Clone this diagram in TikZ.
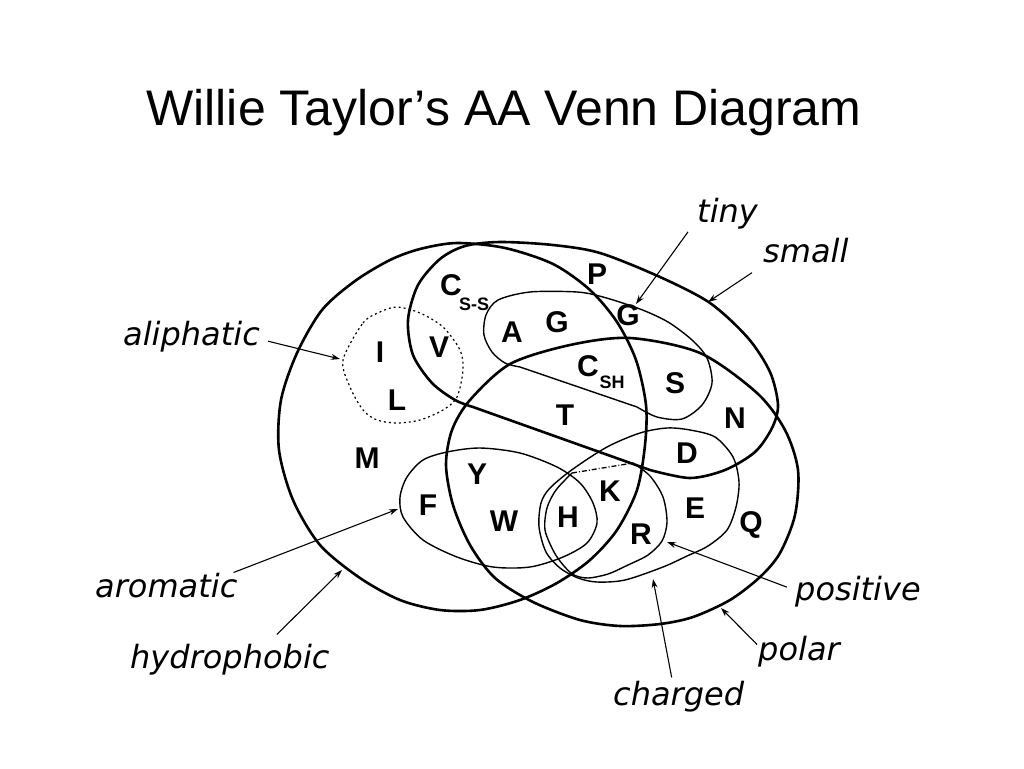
\documentclass[tikz,border=0pt]{standalone}
\usepackage{fontspec}
\setmainfont{Liberation Sans}
\newfontfamily\labelfont{DejaVu Sans}
\usetikzlibrary{arrows.meta}

\begin{document}
\begin{tikzpicture}[x=1pt, y=-1pt, line join=round]
  % All coordinates are taken straight off the 1024x768 slide,
  % so one unit is one pixel and y grows downwards.
  \tikzset{
    set_thick/.style={line width=2.6pt},
    set_thin/.style={line width=1.4pt},
    set_dotted/.style={line width=1.2pt, dash pattern=on 2pt off 3pt},
    set_dashdot/.style={line width=1.3pt, dash pattern=on 5pt off 2pt on 1pt off 2pt},
    aa_letter/.style={font=\fontsize{30}{30}\selectfont\bfseries, inner sep=0pt},
    aa_sub/.style={font=\fontsize{18}{18}\selectfont\bfseries, inner sep=0pt},
    set_label/.style={font=\labelfont\itshape\fontsize{32}{32}\selectfont,
      inner sep=0pt, anchor=base west},
    pointer/.style={line width=1.1pt, -{Stealth[length=9pt,width=6pt]}},
  }
  \useasboundingbox (0,0) rectangle (1024,768);

  \node[font=\fontsize{50}{50}\selectfont, anchor=base, inner sep=0pt] (title)
    at (504,125) {Willie Taylor’s AA Venn Diagram};

  % hydrophobic
  \draw[set_thick] plot[smooth cycle] coordinates {
    (457,243) (505,248) (553,264) (590,290) (617,322) (636,360) (646,405)
    (645,445) (637,490) (617,530) (590,560) (557,583) (520,600) (480,610)
    (440,610) (400,600) (360,578) (320,545) (293,500) (279,450) (281,400)
    (297,353) (322,310) (355,281) (390,260) (420,249)};
  % small
  \draw[set_thick] plot[smooth] coordinates {
    (473,407) (455,400) (432,383) (413,355) (408,320) (418,285) (440,259)
    (465,246) (500,242) (553,245) (600,253) (660,277) (710,303) (748,338)
    (770,372) (778,405) (772,428) (755,452) (725,470) (690,478) (650,470)}
    -- cycle;
  % polar
  \draw[set_thick] plot[smooth cycle] coordinates {
    (470,400) (510,364) (570,345) (630,338) (700,353) (757,393) (785,430)
    (798,470) (795,515) (780,553) (760,577) (730,600) (693,617) (660,624)
    (620,626) (580,620) (533,602) (495,578) (470,545) (453,505) (446,465)
    (452,430)};
  % tiny
  \draw[set_thin] plot[smooth] coordinates {
    (637,407) (657,417) (682,419) (702,405) (712,383) (707,358) (692,340)
    (668,322) (640,309) (603,297) (577,292) (530,292) (498,300) (486,315)
    (484,335) (492,352) (505,363) (520,367)} -- cycle;
  % aliphatic
  \draw[set_dotted] plot[smooth cycle] coordinates {
    (343,360) (363,323) (380,312) (397,307) (420,313) (443,327) (460,350)
    (463,370) (457,397) (443,410) (420,420) (397,423) (377,420) (363,410)
    (350,387)};
  % aromatic
  \draw[set_thin] plot[smooth cycle] coordinates {
    (400,497) (407,477) (423,460) (447,452) (480,448) (520,453) (557,467)
    (580,483) (593,503) (597,523) (587,543) (563,557) (530,567) (493,567)
    (457,557) (423,540) (403,517)};
  % charged
  \draw[set_thin] plot[smooth cycle] coordinates {
    (640,433) (667,428) (690,430) (715,437) (733,457) (739,482) (736,507)
    (727,530) (708,546) (687,556) (663,567) (625,580) (597,582) (578,578)
    (560,568) (546,552) (539,527) (541,503) (550,488) (573,469) (607,447)};
  % positive
  \draw[set_thin] plot[smooth] coordinates {
    (633,463) (650,476) (663,497) (667,522) (662,541) (648,555) (628,565)
    (608,574) (588,578) (574,575) (564,566) (554,552) (545,530) (547,508)
    (556,490) (572,473)};
  \draw[set_dashdot] (572,473) -- (633,463);

  % the amino acids
  \foreach \nm/\txt/\x/\y in {
    I/I/380/352, V/V/439/347, L/L/397/400, M/M/367/458, Css/C/451/285,
    P/P/597/274, A/A/512/332, G/G/557/322, Gtiny/G/628/315, Csh/C/588/366,
    S/S/675/383, T/T/565/415, N/N/735/418, D/D/687/453, Y/Y/477/474,
    K/K/610/491, F/F/428/505, E/E/695/508, W/W/504/521, H/H/568/517,
    R/R/641/534, Q/Q/751/525}
    \node[aa_letter] (aa\nm) at (\x,\y) {\txt};
  \node[aa_sub] (aaCssSub) at (474,304) {S-S};
  \node[aa_sub] (aaCshSub) at (612,382) {SH};

  % set names and their pointers
  \node[set_label] (aliphatic) at (123,345) {aliphatic};
  \node[set_label] (aromatic) at (95,597) {aromatic};
  \node[set_label] (hydrophobic) at (130,668) {hydrophobic};
  \node[set_label] (tiny) at (697,222) {tiny};
  \node[set_label] (small) at (763,262) {small};
  \node[set_label] (positive) at (795,600) {positive};
  \node[set_label] (polar) at (758,660) {polar};
  \node[set_label] (charged) at (613,705) {charged};

  \coordinate (aliphatic tip) at (340,359);
  \coordinate (aromatic tip) at (398,509);
  \coordinate (hydrophobic tip) at (342,570);
  \coordinate (tiny tip) at (636,304);
  \coordinate (small tip) at (708,302);
  \coordinate (positive tip) at (667,542);
  \coordinate (polar tip) at (721,608);
  \coordinate (charged tip) at (653,579);

  \draw[pointer] ([xshift=8pt,yshift=-5pt]aliphatic.east) -- (aliphatic tip);
  \draw[pointer] ([xshift=-4pt]aromatic.north east) -- (aromatic tip);
  \draw[pointer] ([xshift=47pt,yshift=9pt]hydrophobic.north) -- (hydrophobic tip);
  \draw[pointer] ([xshift=-9pt,yshift=-3pt]tiny.south west) -- (tiny tip);
  \draw[pointer] ([xshift=-11pt,yshift=-10pt]small.south west) -- (small tip);
  \draw[pointer] ([xshift=-8pt,yshift=4pt]positive.west) -- (positive tip);
  \draw[pointer] ([xshift=-1pt,yshift=-9pt]polar.north west) -- (polar tip);
  \draw[pointer] ([xshift=-7pt,yshift=3pt]charged.north) -- (charged tip);
\end{tikzpicture}
\end{document}
